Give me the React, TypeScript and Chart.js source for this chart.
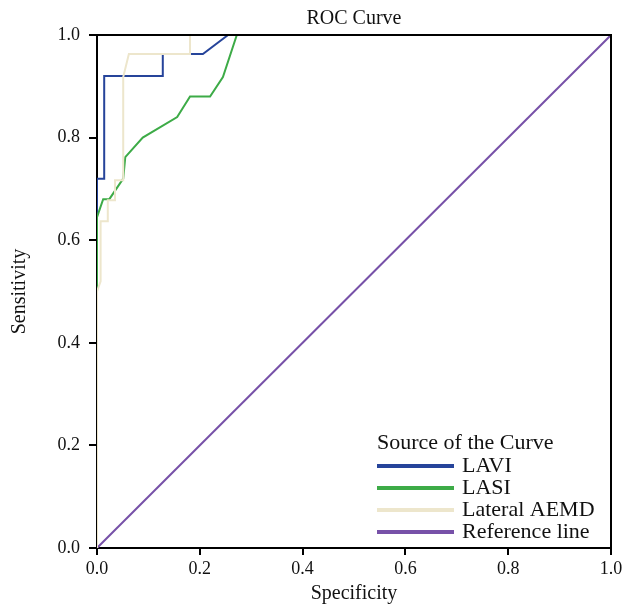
import React, { useEffect, useRef } from "react";
import { Chart, registerables } from "chart.js";

Chart.register(...registerables);

const chartTitle = "ROC Curve";
const xAxisTitle = "Specificity";
const yAxisTitle = "Sensitivity";
const legendTitle = "Source of the Curve";
const axisTicks = [0, 0.2, 0.4, 0.6, 0.8, 1.0];

const seriesNames = ["LAVI", "LASI", "Lateral AEMD", "Reference line"];
const seriesColors = ["#26449a", "#3dab47", "#ede6cc", "#7751a8"];

const laviX = [0, 0, 0.014, 0.014, 0.128, 0.128, 0.206, 0.255];
const laviY = [0, 0.72, 0.72, 0.92, 0.92, 0.963, 0.963, 1.0];

const lasiX = [0, 0, 0.012, 0.024, 0.051, 0.055, 0.089, 0.156, 0.181, 0.22, 0.245, 0.272];
const lasiY = [0, 0.645, 0.68, 0.68, 0.72, 0.762, 0.8, 0.84, 0.88, 0.88, 0.918, 1.0];

const aemdX = [0, 0, 0.007, 0.007, 0.021, 0.021, 0.035, 0.035, 0.051, 0.051, 0.062, 0.181, 0.181];
const aemdY = [0, 0.5, 0.52, 0.637, 0.637, 0.678, 0.678, 0.717, 0.717, 0.918, 0.963, 0.963, 1.0];

const refX = [0, 1];
const refY = [0, 1];

const FONT = "'Liberation Serif', 'Times New Roman', serif";

function pts(xs: number[], ys: number[]) {
  return xs.map((x, i) => ({ x, y: ys[i] }));
}

export default function App() {
  const ref = useRef<HTMLCanvasElement | null>(null);

  useEffect(() => {
    document.body.style.margin = "0";
    const canvas = ref.current;
    if (!canvas) return;

    const framePlugin = {
      id: "frame",
      afterDatasetsDraw(chart: any) {
        const { ctx, chartArea } = chart;
        ctx.save();
        ctx.strokeStyle = "#000";
        ctx.lineWidth = 2;
        ctx.beginPath();
        ctx.moveTo(chartArea.left, chartArea.top);
        ctx.lineTo(chartArea.right, chartArea.top);
        ctx.lineTo(chartArea.right, chartArea.bottom);
        ctx.stroke();
        ctx.restore();
      },
    };

    const titleLegendPlugin = {
      id: "titleLegend",
      afterDraw(chart: any) {
        const { ctx, chartArea } = chart;
        ctx.save();
        ctx.fillStyle = "#111";
        ctx.font = `20px ${FONT}`;
        ctx.textBaseline = "middle";
        ctx.textAlign = "center";
        ctx.fillText(chartTitle, (chartArea.left + chartArea.right) / 2, 19);

        ctx.font = `22px ${FONT}`;
        ctx.textAlign = "left";
        ctx.fillText(legendTitle, 377, 443);
        const rowY = [466, 488, 510, 532];
        seriesNames.forEach((name, i) => {
          const y = rowY[i];
          ctx.strokeStyle = seriesColors[i];
          ctx.lineWidth = 4;
          ctx.beginPath();
          ctx.moveTo(377, y);
          ctx.lineTo(454, y);
          ctx.stroke();
          ctx.fillStyle = "#111";
          ctx.fillText(name, 462, y);
        });
        ctx.restore();
      },
    };

    const chart = new Chart(canvas, {
      type: "scatter",
      data: {
        datasets: [
          { label: seriesNames[3], data: pts(refX, refY), borderColor: seriesColors[3], order: 4 },
          { label: seriesNames[0], data: pts(laviX, laviY), borderColor: seriesColors[0], order: 3 },
          { label: seriesNames[1], data: pts(lasiX, lasiY), borderColor: seriesColors[1], order: 2 },
          { label: seriesNames[2], data: pts(aemdX, aemdY), borderColor: seriesColors[2], order: 1 },
        ].map((d) => ({
          ...d,
          showLine: true,
          borderWidth: 2,
          pointRadius: 0,
          pointHoverRadius: 0,
          fill: false,
          tension: 0,
        })),
      },
      options: {
        responsive: false,
        animation: false,
        devicePixelRatio: 1,
        layout: { padding: { left: 0, right: 24, top: 35, bottom: 0 } },
        plugins: {
          legend: { display: false },
          tooltip: { enabled: false },
          title: { display: false },
        },
        scales: {
          x: {
            type: "linear",
            min: 0,
            max: 1,
            afterFit(scale: any) {
              scale.height = 60;
            },
            afterBuildTicks(scale: any) {
              scale.ticks = axisTicks.map((v) => ({ value: v }));
            },
            ticks: {
              color: "#111",
              font: { family: FONT, size: 18 },
              padding: 3,
              maxRotation: 0,
              callback: (v: any) => Number(v).toFixed(1),
            },
            grid: { display: true, drawOnChartArea: false, drawTicks: true, tickLength: 7, color: "#000", lineWidth: 2 },
            border: { display: true, color: "#000", width: 2 },
            title: {
              display: true,
              text: xAxisTitle,
              color: "#111",
              font: { family: FONT, size: 20 },
              padding: { top: 0, bottom: 2 },
            },
          },
          y: {
            type: "linear",
            min: 0,
            max: 1,
            afterFit(scale: any) {
              scale.width = 97;
            },
            afterBuildTicks(scale: any) {
              scale.ticks = axisTicks.map((v) => ({ value: v }));
            },
            ticks: {
              color: "#111",
              font: { family: FONT, size: 18 },
              padding: 9,
              callback: (v: any) => Number(v).toFixed(1),
            },
            grid: { display: true, drawOnChartArea: false, drawTicks: true, tickLength: 8, color: "#000", lineWidth: 2 },
            border: { display: true, color: "#000", width: 2 },
            title: {
              display: true,
              text: yAxisTitle,
              color: "#111",
              font: { family: FONT, size: 20 },
              padding: { top: 8, bottom: 0 },
            },
          },
        },
      },
      plugins: [framePlugin, titleLegendPlugin],
    } as any);

    return () => chart.destroy();
  }, []);

  return <canvas ref={ref} width={635} height={608} style={{ display: "block" }} />;
}
